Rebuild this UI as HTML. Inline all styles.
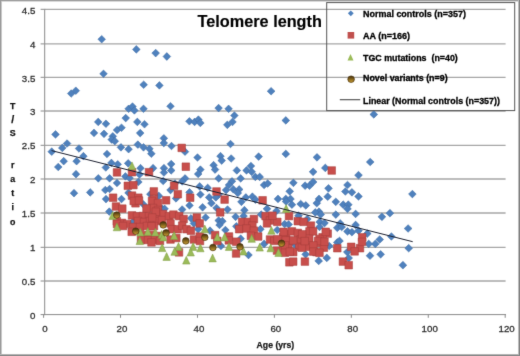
<!DOCTYPE html>
<html><head><meta charset="utf-8"><style>
html,body{margin:0;padding:0;background:#fff;}
svg{display:block;}
text{font-family:"Liberation Sans",sans-serif;}
</style></head><body>
<svg width="520" height="356" viewBox="0 0 520 356">
<defs><filter id="soft" filterUnits="userSpaceOnUse" x="0" y="0" width="520" height="356" color-interpolation-filters="sRGB"><feConvolveMatrix order="3" kernelMatrix="0.0081 0.0729 0.0081 0.0729 0.6561 0.0729 0.0081 0.0729 0.0081" edgeMode="duplicate"/></filter><linearGradient id="bg" x1="0" y1="0" x2="0" y2="1"><stop offset="0" stop-color="#3e2a08"/><stop offset="0.5" stop-color="#86661e"/><stop offset="1" stop-color="#cfa232"/></linearGradient></defs>
<g filter="url(#soft)">
<rect x="0" y="0" width="520" height="356" fill="#fff"/>

<rect x="0" y="0" width="520" height="1" fill="#9e9e9e"/><rect x="0" y="1" width="520" height="1" fill="#dadada"/>
<rect x="0" y="0" width="1" height="356" fill="#9a9a9a"/><rect x="1" y="1" width="1" height="354" fill="#c8c8c8"/>
<rect x="518" y="0" width="1" height="356" fill="#bcbcbc"/><rect x="519" y="0" width="1" height="356" fill="#808080"/>
<rect x="0" y="354" width="519" height="1" fill="#b4b4b4"/><rect x="0" y="355" width="520" height="1" fill="#888888"/>
<line x1="45" y1="281.00" x2="505.6" y2="281.00" stroke="#a6a6a6" stroke-width="1.3"/>
<line x1="45" y1="247.30" x2="505.6" y2="247.30" stroke="#a6a6a6" stroke-width="1.3"/>
<line x1="45" y1="213.00" x2="505.6" y2="213.00" stroke="#a6a6a6" stroke-width="1.3"/>
<line x1="45" y1="179.00" x2="505.6" y2="179.00" stroke="#a6a6a6" stroke-width="1.3"/>
<line x1="45" y1="145.30" x2="505.6" y2="145.30" stroke="#a6a6a6" stroke-width="1.3"/>
<line x1="45" y1="111.00" x2="505.6" y2="111.00" stroke="#a6a6a6" stroke-width="1.3"/>
<line x1="45" y1="77.30" x2="505.6" y2="77.30" stroke="#a6a6a6" stroke-width="1.3"/>
<line x1="45" y1="43.90" x2="505.6" y2="43.90" stroke="#a6a6a6" stroke-width="1.3"/>
<line x1="45" y1="9.30" x2="505.6" y2="9.30" stroke="#a6a6a6" stroke-width="1.3"/>
<line x1="44.7" y1="8.8" x2="44.7" y2="315.1" stroke="#8a8a8a"/>
<line x1="44.2" y1="314.6" x2="506" y2="314.6" stroke="#8a8a8a"/>
<line x1="40.6" y1="314.60" x2="44.5" y2="314.60" stroke="#8a8a8a"/>
<line x1="40.6" y1="281.00" x2="44.5" y2="281.00" stroke="#8a8a8a"/>
<line x1="40.6" y1="247.30" x2="44.5" y2="247.30" stroke="#8a8a8a"/>
<line x1="40.6" y1="213.00" x2="44.5" y2="213.00" stroke="#8a8a8a"/>
<line x1="40.6" y1="179.00" x2="44.5" y2="179.00" stroke="#8a8a8a"/>
<line x1="40.6" y1="145.30" x2="44.5" y2="145.30" stroke="#8a8a8a"/>
<line x1="40.6" y1="111.00" x2="44.5" y2="111.00" stroke="#8a8a8a"/>
<line x1="40.6" y1="77.30" x2="44.5" y2="77.30" stroke="#8a8a8a"/>
<line x1="40.6" y1="43.90" x2="44.5" y2="43.90" stroke="#8a8a8a"/>
<line x1="40.6" y1="9.30" x2="44.5" y2="9.30" stroke="#8a8a8a"/>
<line x1="43.60" y1="314.5" x2="43.60" y2="317.8" stroke="#8a8a8a"/>
<line x1="120.53" y1="314.5" x2="120.53" y2="317.8" stroke="#8a8a8a"/>
<line x1="197.47" y1="314.5" x2="197.47" y2="317.8" stroke="#8a8a8a"/>
<line x1="274.40" y1="314.5" x2="274.40" y2="317.8" stroke="#8a8a8a"/>
<line x1="351.33" y1="314.5" x2="351.33" y2="317.8" stroke="#8a8a8a"/>
<line x1="428.27" y1="314.5" x2="428.27" y2="317.8" stroke="#8a8a8a"/>
<line x1="505.20" y1="314.5" x2="505.20" y2="317.8" stroke="#8a8a8a"/>
<text x="35.3" y="318.7" font-size="9.7" fill="#303030" stroke="#303030" stroke-width="0.3" text-anchor="end">0</text>
<text x="35.3" y="284.8" font-size="9.7" fill="#303030" stroke="#303030" stroke-width="0.3" text-anchor="end">0.5</text>
<text x="35.3" y="250.9" font-size="9.7" fill="#303030" stroke="#303030" stroke-width="0.3" text-anchor="end">1</text>
<text x="35.3" y="217.0" font-size="9.7" fill="#303030" stroke="#303030" stroke-width="0.3" text-anchor="end">1.5</text>
<text x="35.3" y="183.1" font-size="9.7" fill="#303030" stroke="#303030" stroke-width="0.3" text-anchor="end">2</text>
<text x="35.3" y="149.3" font-size="9.7" fill="#303030" stroke="#303030" stroke-width="0.3" text-anchor="end">2.5</text>
<text x="35.3" y="115.4" font-size="9.7" fill="#303030" stroke="#303030" stroke-width="0.3" text-anchor="end">3</text>
<text x="35.3" y="81.5" font-size="9.7" fill="#303030" stroke="#303030" stroke-width="0.3" text-anchor="end">3.5</text>
<text x="35.3" y="47.6" font-size="9.7" fill="#303030" stroke="#303030" stroke-width="0.3" text-anchor="end">4</text>
<text x="35.3" y="13.7" font-size="9.7" fill="#303030" stroke="#303030" stroke-width="0.3" text-anchor="end">4.5</text>
<text x="45.0" y="332.3" font-size="9.7" fill="#303030" stroke="#303030" stroke-width="0.3" text-anchor="middle">0</text>
<text x="121.9" y="332.3" font-size="9.7" fill="#303030" stroke="#303030" stroke-width="0.3" text-anchor="middle">20</text>
<text x="198.9" y="332.3" font-size="9.7" fill="#303030" stroke="#303030" stroke-width="0.3" text-anchor="middle">40</text>
<text x="275.8" y="332.3" font-size="9.7" fill="#303030" stroke="#303030" stroke-width="0.3" text-anchor="middle">60</text>
<text x="352.7" y="332.3" font-size="9.7" fill="#303030" stroke="#303030" stroke-width="0.3" text-anchor="middle">80</text>
<text x="429.7" y="332.3" font-size="9.7" fill="#303030" stroke="#303030" stroke-width="0.3" text-anchor="middle">100</text>
<text x="506.6" y="332.3" font-size="9.7" fill="#303030" stroke="#303030" stroke-width="0.3" text-anchor="middle">120</text>
<text x="256.6" y="347.7" font-size="8.3" font-weight="bold" fill="#1a1a1a" stroke="#1a1a1a" stroke-width="0.25" textLength="37.6" lengthAdjust="spacingAndGlyphs">Age (yrs)</text>
<text x="12.8" y="109.1" font-size="8.8" font-weight="bold" fill="#111" stroke="#111" stroke-width="0.25" text-anchor="middle">T</text>
<text x="12.8" y="122.6" font-size="10.6" font-weight="bold" fill="#111" stroke="#111" stroke-width="0.25" text-anchor="middle">/</text>
<text x="12.8" y="136.3" font-size="8.8" font-weight="bold" fill="#111" stroke="#111" stroke-width="0.25" text-anchor="middle">S</text>
<text x="12.8" y="168.2" font-size="8.8" font-weight="bold" fill="#111" stroke="#111" stroke-width="0.25" text-anchor="middle">r</text>
<text x="12.8" y="181.5" font-size="8.8" font-weight="bold" fill="#111" stroke="#111" stroke-width="0.25" text-anchor="middle">a</text>
<text x="12.8" y="195.9" font-size="8.8" font-weight="bold" fill="#111" stroke="#111" stroke-width="0.25" text-anchor="middle">t</text>
<text x="12.8" y="209.8" font-size="8.8" font-weight="bold" fill="#111" stroke="#111" stroke-width="0.25" text-anchor="middle">i</text>
<text x="12.8" y="225.2" font-size="8.8" font-weight="bold" fill="#111" stroke="#111" stroke-width="0.25" text-anchor="middle">o</text>
<text x="197.6" y="26.5" font-size="15.8" font-weight="bold" fill="#000" stroke="#000" stroke-width="0.15" textLength="124.3" lengthAdjust="spacingAndGlyphs">Telomere length</text>
<g fill="#4f81bd" stroke="#3c6aa2" stroke-width="0.5"><path d="M101.7 35.4L105.5 39.2L101.7 43.1L97.9 39.2Z"/><path d="M136.3 45.5L140.2 49.4L136.3 53.2L132.5 49.4Z"/><path d="M155.7 49.2L159.5 53.1L155.7 57.0L151.8 53.1Z"/><path d="M166.8 52.6L170.7 56.5L166.8 60.4L163.0 56.5Z"/><path d="M103.5 70.0L107.3 73.8L103.5 77.6L99.7 73.8Z"/><path d="M143.7 80.9L147.5 84.7L143.7 88.5L139.8 84.7Z"/><path d="M159.4 81.6L163.2 85.4L159.4 89.2L155.6 85.4Z"/><path d="M71.2 89.7L75.0 93.5L71.2 97.3L67.4 93.5Z"/><path d="M75.8 86.9L79.6 90.7L75.8 94.5L72.0 90.7Z"/><path d="M271.1 87.4L275.0 91.2L271.1 95.0L267.2 91.2Z"/><path d="M128.6 105.0L132.4 108.8L128.6 112.6L124.8 108.8Z"/><path d="M132.5 102.7L136.3 106.5L132.5 110.3L128.7 106.5Z"/><path d="M125.7 114.2L129.6 118.1L125.7 121.9L121.9 118.1Z"/><path d="M98.2 118.1L102.0 121.9L98.2 125.8L94.4 121.9Z"/><path d="M105.9 120.0L109.8 123.8L105.9 127.6L102.1 123.8Z"/><path d="M55.5 130.6L59.4 134.4L55.5 138.2L51.6 134.4Z"/><path d="M94.0 129.1L97.8 132.9L94.0 136.8L90.2 132.9Z"/><path d="M104.0 130.0L107.8 133.8L104.0 137.7L100.2 133.8Z"/><path d="M117.1 126.2L120.9 130.0L117.1 133.8L113.2 130.0Z"/><path d="M121.5 123.9L125.3 127.7L121.5 131.6L117.7 127.7Z"/><path d="M112.8 132.5L116.6 136.3L112.8 140.2L109.0 136.3Z"/><path d="M111.7 135.8L115.5 139.6L111.7 143.4L107.9 139.6Z"/><path d="M114.8 137.3L118.6 141.2L114.8 145.0L111.0 141.2Z"/><path d="M67.1 139.7L70.9 143.5L67.1 147.3L63.2 143.5Z"/><path d="M62.3 144.1L66.1 147.9L62.3 151.8L58.4 147.9Z"/><path d="M79.0 144.7L82.8 148.5L79.0 152.3L75.2 148.5Z"/><path d="M51.7 147.8L55.6 151.7L51.7 155.5L47.9 151.7Z"/><path d="M107.0 150.2L110.8 154.0L107.0 157.8L103.2 154.0Z"/><path d="M120.9 143.5L124.8 147.3L120.9 151.2L117.1 147.3Z"/><path d="M128.6 145.3L132.4 149.2L128.6 153.0L124.8 149.2Z"/><path d="M83.4 152.3L87.2 156.2L83.4 160.0L79.6 156.2Z"/><path d="M134.4 106.6L138.2 110.4L134.4 114.2L130.6 110.4Z"/><path d="M143.5 105.0L147.3 108.8L143.5 112.6L139.7 108.8Z"/><path d="M170.5 102.4L174.3 106.2L170.5 110.0L166.7 106.2Z"/><path d="M218.6 104.2L222.4 108.1L218.6 111.9L214.8 108.1Z"/><path d="M228.6 105.0L232.4 108.8L228.6 112.6L224.8 108.8Z"/><path d="M137.3 118.1L141.2 121.9L137.3 125.8L133.5 121.9Z"/><path d="M144.5 120.4L148.3 124.2L144.5 128.1L140.7 124.2Z"/><path d="M189.4 117.5L193.2 121.3L189.4 125.1L185.6 121.3Z"/><path d="M194.6 118.1L198.4 121.9L194.6 125.8L190.8 121.9Z"/><path d="M198.4 115.8L202.2 119.6L198.4 123.4L194.6 119.6Z"/><path d="M200.3 119.1L204.2 122.9L200.3 126.8L196.5 122.9Z"/><path d="M227.3 121.0L231.2 124.8L227.3 128.7L223.5 124.8Z"/><path d="M232.5 118.1L236.3 121.9L232.5 125.8L228.7 121.9Z"/><path d="M140.2 129.2L144.0 133.1L140.2 136.9L136.3 133.1Z"/><path d="M137.8 140.8L141.7 144.6L137.8 148.4L134.0 144.6Z"/><path d="M143.5 143.5L147.3 147.3L143.5 151.2L139.7 147.3Z"/><path d="M149.4 145.0L153.2 148.8L149.4 152.7L145.6 148.8Z"/><path d="M151.3 149.8L155.2 153.7L151.3 157.5L147.5 153.7Z"/><path d="M163.8 134.5L167.7 138.3L163.8 142.2L160.0 138.3Z"/><path d="M163.8 139.2L167.7 143.1L163.8 146.9L160.0 143.1Z"/><path d="M171.5 142.2L175.3 146.0L171.5 149.8L167.7 146.0Z"/><path d="M185.0 147.8L188.8 151.7L185.0 155.5L181.2 151.7Z"/><path d="M197.5 153.7L201.3 157.5L197.5 161.3L193.7 157.5Z"/><path d="M220.5 152.3L224.3 156.2L220.5 160.0L216.7 156.2Z"/><path d="M230.5 140.2L234.3 144.0L230.5 147.8L226.7 144.0Z"/><path d="M231.2 154.7L235.0 158.5L231.2 162.3L227.3 158.5Z"/><path d="M234.4 111.7L238.2 115.5L234.4 119.3L230.6 115.5Z"/><path d="M285.8 116.6L289.7 120.4L285.8 124.2L281.9 120.4Z"/><path d="M258.6 152.8L262.5 156.6L258.6 160.4L254.8 156.6Z"/><path d="M285.8 150.1L289.7 153.9L285.8 157.8L281.9 153.9Z"/><path d="M317.0 153.5L320.9 157.3L317.0 161.2L313.1 157.3Z"/><path d="M373.8 110.6L377.7 114.4L373.8 118.2L369.9 114.4Z"/><path d="M63.7 157.3L67.5 161.2L63.7 165.0L59.9 161.2Z"/><path d="M76.6 157.3L80.4 161.2L76.6 165.0L72.8 161.2Z"/><path d="M58.2 163.2L62.1 167.0L58.2 170.8L54.4 167.0Z"/><path d="M76.0 170.3L79.8 174.2L76.0 178.0L72.2 174.2Z"/><path d="M74.0 189.3L77.8 193.2L74.0 197.0L70.2 193.2Z"/><path d="M90.2 188.6L94.0 192.4L90.2 196.2L86.4 192.4Z"/><path d="M111.4 159.1L115.2 162.9L111.4 166.8L107.6 162.9Z"/><path d="M117.7 160.5L121.5 164.3L117.7 168.2L113.9 164.3Z"/><path d="M105.8 163.7L109.6 167.5L105.8 171.3L102.0 167.5Z"/><path d="M128.2 159.5L132.0 163.3L128.2 167.2L124.3 163.3Z"/><path d="M140.5 164.3L144.3 168.2L140.5 172.0L136.7 168.2Z"/><path d="M153.1 164.3L156.9 168.2L153.1 172.0L149.2 168.2Z"/><path d="M98.3 174.5L102.1 178.3L98.3 182.2L94.5 178.3Z"/><path d="M109.6 174.5L113.4 178.3L109.6 182.2L105.8 178.3Z"/><path d="M117.0 179.2L120.8 183.0L117.0 186.8L113.2 183.0Z"/><path d="M125.4 172.6L129.2 176.4L125.4 180.2L121.6 176.4Z"/><path d="M129.6 174.2L133.4 178.1L129.6 181.9L125.8 178.1Z"/><path d="M138.3 178.2L142.2 182.0L138.3 185.8L134.5 182.0Z"/><path d="M139.5 170.7L143.3 174.5L139.5 178.3L135.7 174.5Z"/><path d="M105.3 186.2L109.1 190.0L105.3 193.8L101.5 190.0Z"/><path d="M109.6 185.2L113.4 189.0L109.6 192.8L105.8 189.0Z"/><path d="M106.0 195.2L109.8 199.1L106.0 202.9L102.2 199.1Z"/><path d="M121.5 195.2L125.3 199.1L121.5 202.9L117.7 199.1Z"/><path d="M128.5 189.0L132.3 192.8L128.5 196.7L124.7 192.8Z"/><path d="M150.3 190.3L154.2 194.2L150.3 198.0L146.5 194.2Z"/><path d="M171.2 160.2L175.0 164.1L171.2 167.9L167.3 164.1Z"/><path d="M163.9 164.3L167.8 168.2L163.9 172.0L160.1 168.2Z"/><path d="M171.2 166.6L175.0 170.4L171.2 174.2L167.3 170.4Z"/><path d="M163.9 168.7L167.8 172.5L163.9 176.3L160.1 172.5Z"/><path d="M200.4 165.8L204.2 169.6L200.4 173.4L196.6 169.6Z"/><path d="M198.2 170.2L202.0 174.0L198.2 177.8L194.3 174.0Z"/><path d="M213.6 161.3L217.4 165.2L213.6 169.0L209.8 165.2Z"/><path d="M215.1 165.8L218.9 169.6L215.1 173.4L211.2 169.6Z"/><path d="M185.1 174.6L188.9 178.4L185.1 182.2L181.2 178.4Z"/><path d="M182.2 177.5L186.0 181.3L182.2 185.2L178.3 181.3Z"/><path d="M163.2 177.2L167.0 181.0L163.2 184.8L159.3 181.0Z"/><path d="M174.9 179.7L178.8 183.5L174.9 187.3L171.1 183.5Z"/><path d="M170.5 186.2L174.3 190.1L170.5 193.9L166.7 190.1Z"/><path d="M199.7 182.6L203.5 186.4L199.7 190.2L195.8 186.4Z"/><path d="M207.7 184.1L211.5 187.9L207.7 191.8L203.8 187.9Z"/><path d="M200.4 190.7L204.2 194.5L200.4 198.3L196.6 194.5Z"/><path d="M209.2 193.6L213.0 197.4L209.2 201.2L205.3 197.4Z"/><path d="M218.7 190.7L222.5 194.5L218.7 198.3L214.8 194.5Z"/><path d="M189.5 188.5L193.3 192.3L189.5 196.2L185.7 192.3Z"/><path d="M158.8 192.1L162.7 195.9L158.8 199.8L155.0 195.9Z"/><path d="M218.7 174.6L222.5 178.4L218.7 182.2L214.8 178.4Z"/><path d="M211.4 199.3L215.2 203.2L211.4 207.0L207.6 203.2Z"/><path d="M189.5 201.6L193.3 205.4L189.5 209.2L185.7 205.4Z"/><path d="M221.7 156.8L225.5 160.6L221.7 164.4L217.8 160.6Z"/><path d="M236.8 166.6L240.7 170.4L236.8 174.2L233.0 170.4Z"/><path d="M246.5 166.6L250.3 170.4L246.5 174.2L242.7 170.4Z"/><path d="M250.9 162.2L254.8 166.0L250.9 169.8L247.1 166.0Z"/><path d="M251.7 168.0L255.5 171.8L251.7 175.7L247.8 171.8Z"/><path d="M240.7 174.6L244.5 178.4L240.7 182.2L236.8 178.4Z"/><path d="M255.3 173.1L259.2 176.9L255.3 180.8L251.5 176.9Z"/><path d="M259.7 173.1L263.6 176.9L259.7 180.8L255.8 176.9Z"/><path d="M231.9 177.5L235.8 181.3L231.9 185.2L228.1 181.3Z"/><path d="M229.0 181.2L232.8 185.0L229.0 188.8L225.2 185.0Z"/><path d="M264.1 181.2L268.0 185.0L264.1 188.8L260.2 185.0Z"/><path d="M267.7 179.7L271.6 183.5L267.7 187.3L263.8 183.5Z"/><path d="M233.4 185.6L237.2 189.4L233.4 193.2L229.6 189.4Z"/><path d="M239.2 185.6L243.0 189.4L239.2 193.2L235.3 189.4Z"/><path d="M237.8 189.2L241.7 193.0L237.8 196.8L234.0 193.0Z"/><path d="M226.1 186.2L229.9 190.1L226.1 193.9L222.2 190.1Z"/><path d="M245.8 193.6L249.7 197.4L245.8 201.2L242.0 197.4Z"/><path d="M252.4 192.8L256.2 196.7L252.4 200.5L248.6 196.7Z"/><path d="M255.3 195.8L259.2 199.6L255.3 203.4L251.5 199.6Z"/><path d="M241.4 198.0L245.2 201.8L241.4 205.7L237.6 201.8Z"/><path d="M278.0 195.1L281.9 198.9L278.0 202.8L274.1 198.9Z"/><path d="M215.8 193.6L219.7 197.4L215.8 201.2L212.0 197.4Z"/><path d="M313.1 168.0L317.0 171.8L313.1 175.7L309.2 171.8Z"/><path d="M325.3 164.1L329.2 167.9L325.3 171.8L321.4 167.9Z"/><path d="M293.4 179.0L297.2 182.8L293.4 186.7L289.5 182.8Z"/><path d="M305.1 181.8L309.0 185.7L305.1 189.5L301.2 185.7Z"/><path d="M309.5 181.8L313.4 185.7L309.5 189.5L305.6 185.7Z"/><path d="M313.1 178.2L317.0 182.0L313.1 185.8L309.2 182.0Z"/><path d="M328.5 184.5L332.4 188.3L328.5 192.2L324.6 188.3Z"/><path d="M289.7 187.5L293.6 191.3L289.7 195.2L285.8 191.3Z"/><path d="M285.8 195.1L289.7 198.9L285.8 202.8L281.9 198.9Z"/><path d="M290.5 195.1L294.4 198.9L290.5 202.8L286.6 198.9Z"/><path d="M319.0 195.1L322.9 198.9L319.0 202.8L315.1 198.9Z"/><path d="M327.7 192.8L331.6 196.7L327.7 200.5L323.8 196.7Z"/><path d="M335.8 198.0L339.7 201.8L335.8 205.7L331.9 201.8Z"/><path d="M300.7 200.2L304.6 204.0L300.7 207.8L296.8 204.0Z"/><path d="M305.8 201.6L309.7 205.4L305.8 209.2L301.9 205.4Z"/><path d="M291.9 200.8L295.8 204.7L291.9 208.5L288.0 204.7Z"/><path d="M316.8 199.3L320.7 203.2L316.8 207.0L312.9 203.2Z"/><path d="M370.2 158.2L374.1 162.0L370.2 165.8L366.3 162.0Z"/><path d="M358.5 171.3L362.4 175.2L358.5 179.0L354.6 175.2Z"/><path d="M347.5 181.2L351.4 185.0L347.5 188.8L343.6 185.0Z"/><path d="M345.4 187.7L349.2 191.5L345.4 195.3L341.5 191.5Z"/><path d="M351.9 188.5L355.8 192.3L351.9 196.2L348.0 192.3Z"/><path d="M358.5 192.6L362.4 196.4L358.5 200.2L354.6 196.4Z"/><path d="M343.2 200.8L347.1 204.7L343.2 208.5L339.3 204.7Z"/><path d="M348.3 200.8L352.2 204.7L348.3 208.5L344.4 204.7Z"/><path d="M412.4 190.2L416.2 194.1L412.4 197.9L408.5 194.1Z"/><path d="M109.3 207.8L113.1 211.6L109.3 215.4L105.5 211.6Z"/><path d="M132.8 218.2L136.7 222.1L132.8 225.9L129.0 222.1Z"/><path d="M143.4 200.6L147.2 204.4L143.4 208.2L139.6 204.4Z"/><path d="M161.9 204.8L165.8 208.6L161.9 212.4L158.1 208.6Z"/><path d="M164.6 205.0L168.4 208.8L164.6 212.7L160.8 208.8Z"/><path d="M182.2 205.7L186.0 209.5L182.2 213.3L178.3 209.5Z"/><path d="M202.6 203.5L206.4 207.3L202.6 211.2L198.8 207.3Z"/><path d="M216.5 204.2L220.3 208.0L216.5 211.8L212.7 208.0Z"/><path d="M191.0 214.5L194.8 218.3L191.0 222.2L187.2 218.3Z"/><path d="M193.9 219.6L197.8 223.4L193.9 227.2L190.1 223.4Z"/><path d="M205.6 213.7L209.4 217.5L205.6 221.3L201.8 217.5Z"/><path d="M218.7 216.7L222.5 220.5L218.7 224.3L214.8 220.5Z"/><path d="M210.0 226.8L213.8 230.7L210.0 234.5L206.2 230.7Z"/><path d="M198.2 225.3L202.0 229.2L198.2 233.0L194.3 229.2Z"/><path d="M227.5 205.7L231.3 209.5L227.5 213.3L223.7 209.5Z"/><path d="M244.4 206.3L248.2 210.2L244.4 214.0L240.6 210.2Z"/><path d="M267.0 205.0L270.9 208.8L267.0 212.7L263.1 208.8Z"/><path d="M276.5 207.2L280.4 211.0L276.5 214.8L272.6 211.0Z"/><path d="M235.6 213.0L239.4 216.8L235.6 220.7L231.8 216.8Z"/><path d="M243.6 212.2L247.4 216.1L243.6 219.9L239.8 216.1Z"/><path d="M222.4 217.3L226.2 221.2L222.4 225.0L218.6 221.2Z"/><path d="M219.5 221.1L223.3 224.9L219.5 228.8L215.7 224.9Z"/><path d="M236.3 222.5L240.2 226.3L236.3 230.2L232.5 226.3Z"/><path d="M225.4 226.2L229.2 230.0L225.4 233.8L221.6 230.0Z"/><path d="M261.2 210.8L265.1 214.6L261.2 218.4L257.3 214.6Z"/><path d="M260.4 225.3L264.2 229.2L260.4 233.0L256.5 229.2Z"/><path d="M277.3 226.2L281.2 230.0L277.3 233.8L273.4 230.0Z"/><path d="M240.7 234.8L244.5 238.7L240.7 242.5L236.8 238.7Z"/><path d="M221.0 242.2L224.8 246.0L221.0 249.8L217.2 246.0Z"/><path d="M264.1 240.1L268.0 243.9L264.1 247.8L260.2 243.9Z"/><path d="M286.1 197.7L290.0 201.5L286.1 205.3L282.2 201.5Z"/><path d="M319.0 207.8L322.9 211.7L319.0 215.5L315.1 211.7Z"/><path d="M315.3 208.6L319.2 212.4L315.3 216.2L311.4 212.4Z"/><path d="M307.3 215.2L311.2 219.0L307.3 222.8L303.4 219.0Z"/><path d="M319.7 218.1L323.6 221.9L319.7 225.8L315.8 221.9Z"/><path d="M335.8 210.8L339.7 214.6L335.8 218.4L331.9 214.6Z"/><path d="M337.3 224.0L341.2 227.8L337.3 231.7L333.4 227.8Z"/><path d="M284.6 220.2L288.5 224.1L284.6 227.9L280.8 224.1Z"/><path d="M329.2 242.2L333.1 246.0L329.2 249.8L325.3 246.0Z"/><path d="M337.3 238.6L341.2 242.4L337.3 246.2L333.4 242.4Z"/><path d="M295.6 241.5L299.5 245.3L295.6 249.2L291.8 245.3Z"/><path d="M347.5 205.0L351.4 208.8L347.5 212.7L343.6 208.8Z"/><path d="M355.6 210.1L359.5 213.9L355.6 217.8L351.8 213.9Z"/><path d="M381.9 213.0L385.8 216.8L381.9 220.7L378.0 216.8Z"/><path d="M389.9 209.3L393.8 213.2L389.9 217.0L386.0 213.2Z"/><path d="M340.2 219.6L344.1 223.4L340.2 227.2L336.3 223.4Z"/><path d="M341.7 223.2L345.6 227.0L341.7 230.8L337.8 227.0Z"/><path d="M355.6 221.1L359.5 224.9L355.6 228.8L351.8 224.9Z"/><path d="M347.5 227.6L351.4 231.4L347.5 235.2L343.6 231.4Z"/><path d="M351.9 228.3L355.8 232.2L351.9 236.0L348.0 232.2Z"/><path d="M358.5 226.8L362.4 230.7L358.5 234.5L354.6 230.7Z"/><path d="M367.3 229.8L371.2 233.6L367.3 237.4L363.4 233.6Z"/><path d="M391.4 232.7L395.2 236.5L391.4 240.3L387.5 236.5Z"/><path d="M339.5 237.1L343.4 240.9L339.5 244.8L335.6 240.9Z"/><path d="M379.7 235.7L383.6 239.5L379.7 243.3L375.8 239.5Z"/><path d="M375.3 240.1L379.2 243.9L375.3 247.8L371.4 243.9Z"/><path d="M368.7 240.1L372.6 243.9L368.7 247.8L364.8 243.9Z"/><path d="M408.1 224.7L412.0 228.5L408.1 232.3L404.2 228.5Z"/><path d="M408.7 244.3L412.6 248.2L408.7 252.0L404.8 248.2Z"/><path d="M248.5 251.2L252.3 255.0L248.5 258.9L244.7 255.0Z"/><path d="M305.6 250.5L309.5 254.3L305.6 258.2L301.8 254.3Z"/><path d="M318.7 257.0L322.6 260.9L318.7 264.8L314.8 260.9Z"/><path d="M326.8 254.0L330.7 257.9L326.8 261.8L322.9 257.9Z"/><path d="M347.3 248.2L351.2 252.1L347.3 255.9L343.4 252.1Z"/><path d="M348.7 254.2L352.6 258.0L348.7 261.9L344.8 258.0Z"/><path d="M370.0 251.8L373.9 255.7L370.0 259.6L366.1 255.7Z"/><path d="M380.6 250.5L384.5 254.3L380.6 258.2L376.8 254.3Z"/><path d="M402.9 261.3L406.8 265.2L402.9 269.1L399.0 265.2Z"/><path d="M288.6 220.6L292.5 224.4L288.6 228.2L284.8 224.4Z"/><path d="M298.5 211.8L302.4 215.7L298.5 219.5L294.6 215.7Z"/><path d="M319.5 223.1L323.4 226.9L319.5 230.8L315.6 226.9Z"/><path d="M324.5 219.2L328.4 223.1L324.5 226.9L320.6 223.1Z"/><path d="M320.7 210.7L324.6 214.5L320.7 218.3L316.8 214.5Z"/><path d="M176.0 194.6L179.8 198.4L176.0 202.2L172.2 198.4Z"/></g>
<g fill="#c84e4b" stroke="#a53c3a" stroke-width="0.5"><path d="M177.9 144.1h7.6v7.6h-7.6Z"/><path d="M113.2 168.6h7.6v7.6h-7.6Z"/><path d="M128.2 168.4h7.6v7.6h-7.6Z"/><path d="M145.2 168.4h7.6v7.6h-7.6Z"/><path d="M124.0 182.0h7.6v7.6h-7.6Z"/><path d="M129.6 181.3h7.6v7.6h-7.6Z"/><path d="M109.3 193.9h7.6v7.6h-7.6Z"/><path d="M128.2 191.8h7.6v7.6h-7.6Z"/><path d="M134.5 193.9h7.6v7.6h-7.6Z"/><path d="M150.0 187.6h7.6v7.6h-7.6Z"/><path d="M150.0 195.3h7.6v7.6h-7.6Z"/><path d="M131.7 199.5h7.6v7.6h-7.6Z"/><path d="M182.0 162.9h7.6v7.6h-7.6Z"/><path d="M170.3 181.9h7.6v7.6h-7.6Z"/><path d="M174.0 190.4h7.6v7.6h-7.6Z"/><path d="M186.4 193.9h7.6v7.6h-7.6Z"/><path d="M162.3 196.5h7.6v7.6h-7.6Z"/><path d="M212.7 187.7h7.6v7.6h-7.6Z"/><path d="M220.8 195.8h7.6v7.6h-7.6Z"/><path d="M258.8 196.5h7.6v7.6h-7.6Z"/><path d="M327.9 166.7h7.6v7.6h-7.6Z"/><path d="M112.2 202.7h7.6v7.6h-7.6Z"/><path d="M118.5 204.8h7.6v7.6h-7.6Z"/><path d="M129.9 197.2h7.6v7.6h-7.6Z"/><path d="M128.2 211.6h7.6v7.6h-7.6Z"/><path d="M133.2 212.4h7.6v7.6h-7.6Z"/><path d="M113.0 217.5h7.6v7.6h-7.6Z"/><path d="M118.1 219.1h7.6v7.6h-7.6Z"/><path d="M135.2 196.7h7.6v7.6h-7.6Z"/><path d="M148.2 197.2h7.6v7.6h-7.6Z"/><path d="M154.2 199.2h7.6v7.6h-7.6Z"/><path d="M149.2 204.2h7.6v7.6h-7.6Z"/><path d="M154.2 206.2h7.6v7.6h-7.6Z"/><path d="M159.2 210.2h7.6v7.6h-7.6Z"/><path d="M139.2 212.2h7.6v7.6h-7.6Z"/><path d="M145.2 212.2h7.6v7.6h-7.6Z"/><path d="M152.2 211.2h7.6v7.6h-7.6Z"/><path d="M134.2 217.2h7.6v7.6h-7.6Z"/><path d="M140.2 218.2h7.6v7.6h-7.6Z"/><path d="M146.2 217.2h7.6v7.6h-7.6Z"/><path d="M153.2 217.2h7.6v7.6h-7.6Z"/><path d="M158.2 216.2h7.6v7.6h-7.6Z"/><path d="M123.2 220.2h7.6v7.6h-7.6Z"/><path d="M129.2 223.2h7.6v7.6h-7.6Z"/><path d="M136.2 223.2h7.6v7.6h-7.6Z"/><path d="M143.2 222.2h7.6v7.6h-7.6Z"/><path d="M150.2 222.2h7.6v7.6h-7.6Z"/><path d="M113.2 220.2h7.6v7.6h-7.6Z"/><path d="M119.2 222.2h7.6v7.6h-7.6Z"/><path d="M127.9 228.0h7.6v7.6h-7.6Z"/><path d="M140.2 231.2h7.6v7.6h-7.6Z"/><path d="M147.2 231.2h7.6v7.6h-7.6Z"/><path d="M155.2 232.2h7.6v7.6h-7.6Z"/><path d="M137.2 236.2h7.6v7.6h-7.6Z"/><path d="M144.2 236.2h7.6v7.6h-7.6Z"/><path d="M151.2 236.2h7.6v7.6h-7.6Z"/><path d="M156.2 237.2h7.6v7.6h-7.6Z"/><path d="M152.0 207.9h7.6v7.6h-7.6Z"/><path d="M148.4 213.7h7.6v7.6h-7.6Z"/><path d="M147.7 222.5h7.6v7.6h-7.6Z"/><path d="M147.7 238.6h7.6v7.6h-7.6Z"/><path d="M165.2 212.3h7.6v7.6h-7.6Z"/><path d="M169.6 210.8h7.6v7.6h-7.6Z"/><path d="M175.4 212.3h7.6v7.6h-7.6Z"/><path d="M179.8 215.2h7.6v7.6h-7.6Z"/><path d="M166.7 219.6h7.6v7.6h-7.6Z"/><path d="M168.1 225.4h7.6v7.6h-7.6Z"/><path d="M174.0 225.4h7.6v7.6h-7.6Z"/><path d="M178.4 221.8h7.6v7.6h-7.6Z"/><path d="M182.7 225.4h7.6v7.6h-7.6Z"/><path d="M187.1 226.9h7.6v7.6h-7.6Z"/><path d="M193.0 213.7h7.6v7.6h-7.6Z"/><path d="M195.9 219.6h7.6v7.6h-7.6Z"/><path d="M166.7 235.7h7.6v7.6h-7.6Z"/><path d="M172.5 234.2h7.6v7.6h-7.6Z"/><path d="M190.1 235.7h7.6v7.6h-7.6Z"/><path d="M195.9 232.7h7.6v7.6h-7.6Z"/><path d="M211.3 231.3h7.6v7.6h-7.6Z"/><path d="M213.5 237.1h7.6v7.6h-7.6Z"/><path d="M216.4 208.6h7.6v7.6h-7.6Z"/><path d="M238.4 218.1h7.6v7.6h-7.6Z"/><path d="M244.2 218.1h7.6v7.6h-7.6Z"/><path d="M250.1 215.2h7.6v7.6h-7.6Z"/><path d="M248.6 221.8h7.6v7.6h-7.6Z"/><path d="M235.4 225.4h7.6v7.6h-7.6Z"/><path d="M242.7 224.7h7.6v7.6h-7.6Z"/><path d="M250.1 226.9h7.6v7.6h-7.6Z"/><path d="M261.8 212.3h7.6v7.6h-7.6Z"/><path d="M266.1 216.7h7.6v7.6h-7.6Z"/><path d="M263.2 219.6h7.6v7.6h-7.6Z"/><path d="M273.5 218.1h7.6v7.6h-7.6Z"/><path d="M254.4 232.7h7.6v7.6h-7.6Z"/><path d="M266.2 235.7h7.6v7.6h-7.6Z"/><path d="M270.5 237.1h7.6v7.6h-7.6Z"/><path d="M225.2 232.7h7.6v7.6h-7.6Z"/><path d="M232.5 237.9h7.6v7.6h-7.6Z"/><path d="M247.1 232.0h7.6v7.6h-7.6Z"/><path d="M285.2 212.3h7.6v7.6h-7.6Z"/><path d="M294.0 217.4h7.6v7.6h-7.6Z"/><path d="M299.8 218.1h7.6v7.6h-7.6Z"/><path d="M307.1 221.8h7.6v7.6h-7.6Z"/><path d="M305.7 227.6h7.6v7.6h-7.6Z"/><path d="M309.3 227.6h7.6v7.6h-7.6Z"/><path d="M282.3 229.8h7.6v7.6h-7.6Z"/><path d="M288.1 227.6h7.6v7.6h-7.6Z"/><path d="M294.0 229.1h7.6v7.6h-7.6Z"/><path d="M296.9 235.7h7.6v7.6h-7.6Z"/><path d="M285.2 237.1h7.6v7.6h-7.6Z"/><path d="M279.4 233.5h7.6v7.6h-7.6Z"/><path d="M323.9 229.8h7.6v7.6h-7.6Z"/><path d="M318.8 233.5h7.6v7.6h-7.6Z"/><path d="M315.9 239.3h7.6v7.6h-7.6Z"/><path d="M304.2 243.0h7.6v7.6h-7.6Z"/><path d="M295.4 243.0h7.6v7.6h-7.6Z"/><path d="M284.5 244.4h7.6v7.6h-7.6Z"/><path d="M333.5 244.4h7.6v7.6h-7.6Z"/><path d="M358.4 233.5h7.6v7.6h-7.6Z"/><path d="M347.4 243.0h7.6v7.6h-7.6Z"/><path d="M356.2 244.4h7.6v7.6h-7.6Z"/><path d="M175.2 248.6h7.6v7.6h-7.6Z"/><path d="M196.2 237.2h7.6v7.6h-7.6Z"/><path d="M232.3 249.7h7.6v7.6h-7.6Z"/><path d="M273.2 246.8h7.6v7.6h-7.6Z"/><path d="M279.1 246.8h7.6v7.6h-7.6Z"/><path d="M285.6 258.5h7.6v7.6h-7.6Z"/><path d="M225.0 236.6h7.6v7.6h-7.6Z"/><path d="M282.0 236.6h7.6v7.6h-7.6Z"/><path d="M289.4 236.6h7.6v7.6h-7.6Z"/><path d="M289.4 248.3h7.6v7.6h-7.6Z"/><path d="M312.7 248.3h7.6v7.6h-7.6Z"/><path d="M315.7 235.1h7.6v7.6h-7.6Z"/><path d="M305.4 235.1h7.6v7.6h-7.6Z"/><path d="M298.1 243.9h7.6v7.6h-7.6Z"/><path d="M320.1 243.9h7.6v7.6h-7.6Z"/><path d="M289.4 257.8h7.6v7.6h-7.6Z"/><path d="M301.1 257.8h7.6v7.6h-7.6Z"/><path d="M339.1 257.8h7.6v7.6h-7.6Z"/><path d="M344.9 261.4h7.6v7.6h-7.6Z"/><path d="M350.8 247.6h7.6v7.6h-7.6Z"/><path d="M268.7 211.9h7.6v7.6h-7.6Z"/><path d="M279.8 228.0h7.6v7.6h-7.6Z"/><path d="M298.4 230.5h7.6v7.6h-7.6Z"/><path d="M273.6 235.4h7.6v7.6h-7.6Z"/><path d="M300.9 237.3h7.6v7.6h-7.6Z"/><path d="M314.2 237.2h7.6v7.6h-7.6Z"/><path d="M321.9 228.0h7.6v7.6h-7.6Z"/><path d="M281.1 241.6h7.6v7.6h-7.6Z"/><path d="M309.5 241.6h7.6v7.6h-7.6Z"/><path d="M320.7 237.9h7.6v7.6h-7.6Z"/><path d="M281.1 249.0h7.6v7.6h-7.6Z"/><path d="M286.0 247.8h7.6v7.6h-7.6Z"/><path d="M309.5 247.8h7.6v7.6h-7.6Z"/><path d="M315.7 249.0h7.6v7.6h-7.6Z"/><path d="M358.2 238.0h7.6v7.6h-7.6Z"/><path d="M142.7 204.7h7.6v7.6h-7.6Z"/></g>
<g fill="#9bbb59" stroke="#7f9c45" stroke-width="0.5"><path d="M132.0 161.9L135.7 169.7L128.3 169.7Z"/><path d="M112.6 211.6L116.3 219.4L108.9 219.4Z"/><path d="M116.9 223.0L120.6 230.8L113.2 230.8Z"/><path d="M140.3 228.2L144.0 236.0L136.6 236.0Z"/><path d="M147.8 227.6L151.5 235.4L144.1 235.4Z"/><path d="M155.3 228.2L159.0 236.0L151.6 236.0Z"/><path d="M139.8 236.8L143.5 244.6L136.1 244.6Z"/><path d="M162.2 243.8L165.9 251.6L158.5 251.6Z"/><path d="M161.7 230.5L165.4 238.3L158.0 238.3Z"/><path d="M163.2 233.1L166.9 240.9L159.5 240.9Z"/><path d="M174.1 231.6L177.8 239.4L170.4 239.4Z"/><path d="M204.8 225.0L208.5 232.8L201.1 232.8Z"/><path d="M178.5 242.6L182.2 250.4L174.8 250.4Z"/><path d="M193.1 242.6L196.8 250.4L189.4 250.4Z"/><path d="M200.4 244.0L204.1 251.8L196.7 251.8Z"/><path d="M217.3 233.1L221.0 240.9L213.6 240.9Z"/><path d="M224.6 233.1L228.3 240.9L220.9 240.9Z"/><path d="M229.0 242.6L232.7 250.4L225.3 250.4Z"/><path d="M251.7 234.5L255.4 242.3L248.0 242.3Z"/><path d="M271.4 226.5L275.1 234.3L267.7 234.3Z"/><path d="M259.7 243.3L263.4 251.1L256.0 251.1Z"/><path d="M270.7 244.0L274.4 251.8L267.0 251.8Z"/><path d="M286.1 204.6L289.8 212.4L282.4 212.4Z"/><path d="M166.6 252.6L170.3 260.4L162.9 260.4Z"/><path d="M174.6 247.5L178.3 255.3L170.9 255.3Z"/><path d="M186.3 256.3L190.0 264.1L182.6 264.1Z"/><path d="M190.7 248.2L194.4 256.0L187.0 256.0Z"/><path d="M212.6 254.1L216.3 261.9L208.9 261.9Z"/><path d="M243.4 247.2L247.1 255.0L239.7 255.0Z"/><path d="M278.5 248.6L282.2 256.4L274.8 256.4Z"/></g>
<circle cx="116.8" cy="215" r="3.3" fill="url(#bg)" stroke="#4a3410" stroke-width="0.7"/>
<circle cx="135.7" cy="231.2" r="3.3" fill="url(#bg)" stroke="#4a3410" stroke-width="0.7"/>
<circle cx="163.2" cy="224.9" r="3.3" fill="url(#bg)" stroke="#4a3410" stroke-width="0.7"/>
<circle cx="166.1" cy="232.9" r="3.3" fill="url(#bg)" stroke="#4a3410" stroke-width="0.7"/>
<circle cx="185.8" cy="240.9" r="3.3" fill="url(#bg)" stroke="#4a3410" stroke-width="0.7"/>
<circle cx="204.8" cy="237.3" r="3.3" fill="url(#bg)" stroke="#4a3410" stroke-width="0.7"/>
<circle cx="212.9" cy="247.5" r="3.3" fill="url(#bg)" stroke="#4a3410" stroke-width="0.7"/>
<circle cx="240" cy="246.8" r="3.3" fill="url(#bg)" stroke="#4a3410" stroke-width="0.7"/>
<circle cx="281.5" cy="243.3" r="3.3" fill="url(#bg)" stroke="#4a3410" stroke-width="0.7"/>
<line x1="51.5" y1="150.6" x2="412.7" y2="241.7" stroke="#1c2030" stroke-width="1.0"/>
<rect x="326.7" y="2.6" width="188" height="108" fill="none" stroke="#555" stroke-width="1"/>
<path fill="#4f81bd" d="M350.8 10.4L353.7 13.3L350.8 16.2L347.9 13.3Z"/>
<path fill="#c0504d" d="M347.6 32.0h6.6v6.6h-6.6Z"/>
<path fill="#9bbb59" d="M350.5 53.9L353.5 60.4L347.5 60.4Z"/>
<circle cx="351.1" cy="79.2" r="3.3" fill="url(#bg)" stroke="#4a3410" stroke-width="0.7"/>
<line x1="339.8" y1="99.7" x2="360.2" y2="99.7" stroke="#4a4a4a" stroke-width="1.1"/>
<text x="363" y="16.9" font-size="9" font-weight="bold" fill="#000" stroke="#000" stroke-width="0.3" xml:space="preserve" textLength="102.9" lengthAdjust="spacingAndGlyphs">Normal controls (n=357)</text>
<text x="363" y="38.5" font-size="9" font-weight="bold" fill="#000" stroke="#000" stroke-width="0.3" xml:space="preserve" textLength="47.0" lengthAdjust="spacingAndGlyphs">AA (n=166)</text>
<text x="363" y="61.0" font-size="9" font-weight="bold" fill="#000" stroke="#000" stroke-width="0.3" xml:space="preserve" textLength="94.8" lengthAdjust="spacingAndGlyphs">TGC mutations  (n=40)</text>
<text x="363" y="81.3" font-size="9" font-weight="bold" fill="#000" stroke="#000" stroke-width="0.3" xml:space="preserve" textLength="84.6" lengthAdjust="spacingAndGlyphs">Novel variants (n=9)</text>
<text x="363" y="103.5" font-size="9" font-weight="bold" fill="#000" stroke="#000" stroke-width="0.3" xml:space="preserve" textLength="136.9" lengthAdjust="spacingAndGlyphs">Linear (Normal controls (n=357))</text>
</g></svg></body></html>
